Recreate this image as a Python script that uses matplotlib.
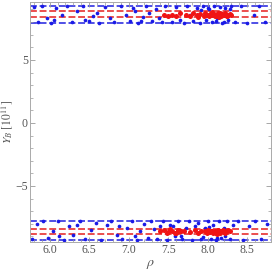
import numpy as np
import matplotlib; matplotlib.use('Agg'); import matplotlib.pyplot as plt
from matplotlib.ticker import MultipleLocator

# band limits (outer = blue, inner = red), in units of 1e11
top_blue = [9.3, 7.95]
top_red = [8.85, 8.4]
bot_blue = [-7.75, -9.25]
bot_red = [-8.45, -8.8]

# scattered points (rho, Y_B)
blue_top_rho = [5.80, 5.85, 5.90, 5.97, 6.02, 6.08, 6.15, 6.22, 6.28, 6.35, 6.42, 6.50, 6.55, 6.62, 6.70,
                6.76, 6.82, 6.90, 6.96, 7.02, 7.08, 7.12, 7.18, 7.22, 7.26, 7.30, 7.34, 7.38, 7.42, 7.46,
                7.50, 7.55, 7.60, 7.65, 7.70, 7.74, 7.78, 7.82, 7.86, 7.90, 7.94, 7.98, 8.02, 8.05, 8.08,
                8.12, 8.15, 8.18, 8.22, 8.26, 8.30, 8.35, 8.42, 8.50, 8.58, 8.65, 8.72, 6.05, 6.60, 7.15,
                8.00, 8.10, 8.20, 7.92, 8.28, 6.45, 7.05]
blue_top_y = [9.2, 8.0, 9.3, 8.3, 7.95, 9.1, 8.6, 9.25, 8.0, 8.9, 9.3, 8.05, 8.5, 7.95, 9.2,
              8.3, 8.0, 9.3, 8.6, 8.1, 8.9, 7.95, 8.4, 9.25, 8.7, 8.1, 9.0, 8.3, 7.98, 9.3,
              8.5, 8.0, 9.2, 8.2, 7.95, 9.3, 8.6, 8.1, 9.1, 7.95, 9.28, 8.2, 9.0, 8.0, 9.3,
              8.3, 9.2, 7.95, 9.1, 8.2, 9.3, 8.0, 9.25, 7.95, 8.6, 9.3, 8.0, 8.15, 8.75, 8.05,
              9.1, 8.1, 8.0, 8.95, 9.05, 8.2, 9.15]
red_top_rho = [7.45, 7.50, 7.55, 7.60, 7.65, 7.72, 7.78, 7.82, 7.86, 7.88, 7.90, 7.95, 7.97, 8.00, 8.02,
               8.04, 8.05, 8.06, 8.08, 8.10, 8.12, 8.13, 8.14, 8.15, 8.17, 8.18, 8.20, 8.22, 8.24, 8.26,
               8.28, 8.30, 7.98, 8.03, 8.09, 8.16, 8.21, 8.25]
red_top_y = [8.55, 8.5, 8.6, 8.45, 8.7, 8.6, 8.5, 8.7, 8.55, 8.4, 8.65, 8.5, 8.75, 8.6, 8.45,
             8.7, 8.8, 8.55, 8.65, 8.5, 8.6, 8.75, 8.4, 8.55, 8.45, 8.65, 8.55, 8.7, 8.5, 8.6,
             8.65, 8.55, 8.6, 8.55, 8.45, 8.7, 8.6, 8.45]
blue_bot_rho = [5.78, 5.84, 5.92, 5.98, 6.04, 6.10, 6.18, 6.25, 6.30, 6.38, 6.45, 6.52, 6.58, 6.65, 6.72,
                6.78, 6.85, 6.92, 6.98, 7.04, 7.10, 7.14, 7.20, 7.24, 7.28, 7.32, 7.36, 7.40, 7.44, 7.48,
                7.52, 7.58, 7.62, 7.68, 7.72, 7.76, 7.80, 7.84, 7.88, 7.92, 7.96, 8.00, 8.04, 8.07, 8.10,
                8.14, 8.17, 8.20, 8.24, 8.28, 8.32, 8.38, 8.45, 8.52, 8.60, 8.68, 8.75, 6.12, 6.88, 7.66,
                7.94, 8.02, 8.12, 8.22, 7.56, 6.35, 7.08]
blue_bot_y = [-9.2, -8.0, -7.8, -9.1, -8.6, -7.75, -9.25, -8.2, -8.9, -7.8, -9.2, -8.5, -7.9, -9.25, -8.1,
              -7.75, -8.9, -9.2, -8.3, -7.8, -9.25, -8.6, -8.0, -9.1, -7.75, -8.4, -9.2, -8.2, -7.8, -9.25,
              -8.1, -9.0, -7.75, -9.2, -8.3, -7.8, -9.25, -8.2, -7.9, -9.2, -8.3, -7.75, -9.2, -8.1, -9.25,
              -7.8, -9.1, -8.3, -7.75, -9.2, -8.1, -7.8, -9.25, -8.2, -7.75, -9.2, -8.0, -9.0, -8.2, -8.95,
              -9.05, -8.25, -9.1, -8.95, -8.2, -8.1, -8.95]
red_bot_rho = [7.40, 7.45, 7.50, 7.55, 7.58, 7.62, 7.66, 7.70, 7.78, 7.84, 7.88, 7.92, 7.96, 7.99, 8.01,
               8.03, 8.05, 8.07, 8.09, 8.11, 8.13, 8.15, 8.16, 8.18, 8.20, 8.22, 8.24, 8.26, 8.28, 7.52,
               7.60, 8.12, 8.04, 8.10, 8.19, 8.23, 7.48, 7.64]
red_bot_y = [-8.6, -8.5, -8.65, -8.55, -8.7, -8.5, -8.6, -8.55, -8.65, -8.5, -8.7, -8.6, -8.55, -8.7, -8.5,
             -8.65, -8.6, -8.75, -8.55, -8.65, -8.5, -8.7, -8.6, -8.55, -8.65, -8.7, -8.6, -8.5, -8.6, -8.45,
             -8.75, -8.8, -8.55, -8.7, -8.5, -8.6, -8.7, -8.55]

plt.rcParams['font.family'] = ['Liberation Serif', 'DejaVu Serif']
plt.rcParams['mathtext.fontset'] = 'stix'
grey = '#555555'

fig = plt.figure(figsize=(2.72, 2.72), dpi=100)
ax = fig.add_axes([0.110, 0.110, 0.886, 0.883])

for y in top_blue + bot_blue:
    ax.axhline(y, color='#1f1fdf', lw=1.1, ls=(0, (4.5, 1.8)), zorder=1)
for y in top_red + bot_red:
    ax.axhline(y, color='#e61e1e', lw=1.1, ls=(0, (4.5, 1.8)), zorder=1)

ax.scatter(blue_top_rho + blue_bot_rho, blue_top_y + blue_bot_y, s=7, c='#1a1ae6', lw=0, zorder=2)
ax.scatter(red_top_rho + red_bot_rho, red_top_y + red_bot_y, s=13, c='#f01414', lw=0, zorder=3)

ax.set_xlim(5.75, 8.8)
ax.set_ylim(-9.45, 9.6)
ax.xaxis.set_major_locator(MultipleLocator(0.5))
ax.xaxis.set_minor_locator(MultipleLocator(0.1))
ax.yaxis.set_major_locator(MultipleLocator(5))
ax.yaxis.set_minor_locator(MultipleLocator(1))
ax.tick_params(which='both', direction='in', top=True, right=True, colors='#999999',
               labelcolor=grey, labelsize=8.5, pad=1.5)
ax.tick_params(which='major', length=3.5, width=0.6)
ax.tick_params(which='minor', length=2, width=0.5)
for s in ax.spines.values():
    s.set_color('#aaaaaa'); s.set_linewidth(0.7)

ax.set_xlabel(r'$\rho$', fontsize=10, color=grey, labelpad=1)
ax.set_ylabel(r'$Y_B\ [10^{11}]$', fontsize=8.5, color=grey, labelpad=0)

fig.savefig('out.png', dpi=100)
